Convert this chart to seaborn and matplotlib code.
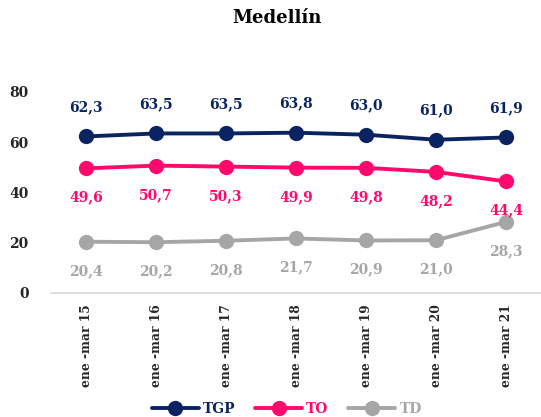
import matplotlib
matplotlib.use("Agg")
import matplotlib.pyplot as plt
import seaborn as sns
import pandas as pd

categories = ["ene -mar 15", "ene -mar 16", "ene -mar 17", "ene -mar 18",
              "ene -mar 19", "ene -mar 20", "ene -mar 21"]
tgp = [62.3, 63.5, 63.5, 63.8, 63.0, 61.0, 61.9]
to = [49.6, 50.7, 50.3, 49.9, 49.8, 48.2, 44.4]
td = [20.4, 20.2, 20.8, 21.7, 20.9, 21.0, 28.3]
series_names = ["TGP", "TO", "TD"]
colors = {"TGP": "#0B2461", "TO": "#FF0A6C", "TD": "#A6A6A6"}
yticks = [0, 20, 40, 60, 80]

sns.set_theme(style="white")
plt.rcParams["font.family"] = ["DejaVu Serif", "Liberation Serif"]
plt.rcParams["font.weight"] = "bold"

rows = []
for name, vals in zip(series_names, [tgp, to, td]):
    for i, v in enumerate(vals):
        rows.append({"x": i, "value": v, "serie": name})
df = pd.DataFrame(rows)

fig = plt.figure(figsize=(5.41, 4.17), dpi=100)
ax = fig.add_axes([0.0943, 0.2974, 0.9057, 0.482])

sns.lineplot(data=df, x="x", y="value", hue="serie", hue_order=series_names,
             palette=colors, marker="o", markersize=11, linewidth=2.8,
             markeredgewidth=0, ax=ax, legend=True)

offsets = {"TGP": 21, "TO": -21, "TD": -21}
for name, vals in zip(series_names, [tgp, to, td]):
    for i, v in enumerate(vals):
        ax.annotate(f"{v:.1f}".replace(".", ","), (i, v),
                    xytext=(0, offsets[name]), textcoords="offset points",
                    ha="center", va="center", color=colors[name],
                    fontsize=10, fontweight="bold")

ax.set_xlim(-0.5, 6.5)
ax.set_ylim(0, 80)
ax.set_yticks(yticks)
ax.set_yticklabels([str(t) for t in yticks], fontsize=10, fontweight="bold")
ax.set_xticks(range(len(categories)))
ax.set_xticklabels(categories, rotation=90, fontsize=8.8, fontweight="bold")
ax.tick_params(axis="both", length=0, pad=8)
ax.tick_params(axis="y", pad=16)
ax.set_xlabel("")
ax.set_ylabel("")
for s in ["top", "right", "left"]:
    ax.spines[s].set_visible(False)
ax.spines["bottom"].set_color("#D9D9D9")
ax.spines["bottom"].set_linewidth(1.2)
for line in ax.lines:
    line.set_clip_on(False)

handles, labels = ax.get_legend_handles_labels()
ax.get_legend().remove()
leg = fig.legend(handles, labels, loc="center", bbox_to_anchor=(0.53, 0.02),
                 ncol=3, frameon=False, handlelength=3.4, columnspacing=1.4,
                 handletextpad=0.3,
                 prop={"weight": "bold", "size": 10})
for text, name in zip(leg.get_texts(), labels):
    text.set_color(colors[name])

fig.text(0.512, 0.957, "Medellín", ha="center", va="center",
         fontsize=13, fontweight="bold", color="black")

fig.savefig("out.png", dpi=100)
